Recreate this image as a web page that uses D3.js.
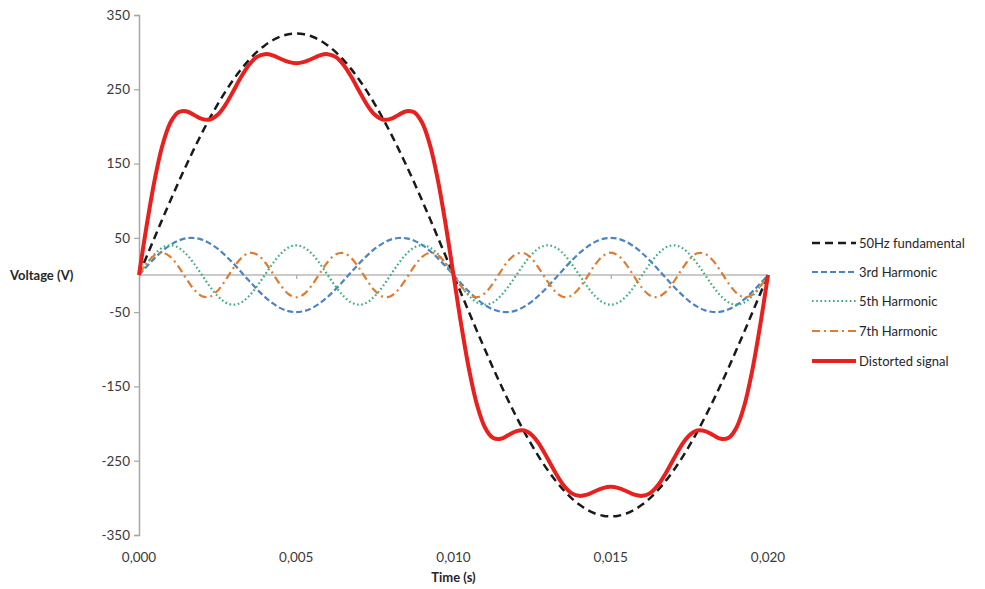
<!DOCTYPE html>
<html>
<head>
<meta charset="utf-8">
<script src="https://cdn.jsdelivr.net/npm/d3@7"></script>
<style>
html,body{margin:0;padding:0;background:#fff;}
svg text{font-family:"Lato","Open Sans",sans-serif;}
</style>
</head>
<body>
<svg id="chart" width="985" height="589"></svg>
<script>
// Time (s)
const time = [0,0.00025,0.0005,0.00075,0.001,0.00125,0.0015,0.00175,0.002,0.00225,0.0025,0.00275,0.003,0.00325,0.0035,0.00375,0.004,0.00425,0.0045,0.00475,0.005,
0.00525,0.0055,0.00575,0.006,0.00625,0.0065,0.00675,0.007,0.00725,0.0075,0.00775,0.008,0.00825,0.0085,0.00875,0.009,0.00925,0.0095,0.00975,0.01,
0.01025,0.0105,0.01075,0.011,0.01125,0.0115,0.01175,0.012,0.01225,0.0125,0.01275,0.013,0.01325,0.0135,0.01375,0.014,0.01425,0.0145,0.01475,0.015,
0.01525,0.0155,0.01575,0.016,0.01625,0.0165,0.01675,0.017,0.01725,0.0175,0.01775,0.018,0.01825,0.0185,0.01875,0.019,0.01925,0.0195,0.01975,0.02];

const fundamental = [0,25.5,50.8,75.9,100.4,124.4,147.5,169.8,191.0,211.1,229.8,247.1,262.9,277.1,289.6,300.3,309.1,316.0,321.0,324.0,325,
324.0,321.0,316.0,309.1,300.3,289.6,277.1,262.9,247.1,229.8,211.1,191.0,169.8,147.5,124.4,100.4,75.9,50.8,25.5,0,
-25.5,-50.8,-75.9,-100.4,-124.4,-147.5,-169.8,-191.0,-211.1,-229.8,-247.1,-262.9,-277.1,-289.6,-300.3,-309.1,-316.0,-321.0,-324.0,-325,
-324.0,-321.0,-316.0,-309.1,-300.3,-289.6,-277.1,-262.9,-247.1,-229.8,-211.1,-191.0,-169.8,-147.5,-124.4,-100.4,-75.9,-50.8,-25.5,0];

const harmonic3 = [0,11.7,22.7,32.5,40.5,46.2,49.4,49.8,47.6,42.6,35.4,26.1,15.5,3.9,-7.8,-19.1,-29.4,-38.0,-44.6,-48.6,-50,
-48.6,-44.6,-38.0,-29.4,-19.1,-7.8,3.9,15.5,26.1,35.4,42.6,47.6,49.8,49.4,46.2,40.5,32.5,22.7,11.7,0,
-11.7,-22.7,-32.5,-40.5,-46.2,-49.4,-49.8,-47.6,-42.6,-35.4,-26.1,-15.5,-3.9,7.8,19.1,29.4,38.0,44.6,48.6,50,
48.6,44.6,38.0,29.4,19.1,7.8,-3.9,-15.5,-26.1,-35.4,-42.6,-47.6,-49.8,-49.4,-46.2,-40.5,-32.5,-22.7,-11.7,0];

const harmonic5 = [0,15.3,28.3,37.0,40,37.0,28.3,15.3,0,-15.3,-28.3,-37.0,-40,-37.0,-28.3,-15.3,0,15.3,28.3,37.0,40,
37.0,28.3,15.3,0,-15.3,-28.3,-37.0,-40,-37.0,-28.3,-15.3,0,15.3,28.3,37.0,40,37.0,28.3,15.3,0,
-15.3,-28.3,-37.0,-40,-37.0,-28.3,-15.3,0,15.3,28.3,37.0,40,37.0,28.3,15.3,0,-15.3,-28.3,-37.0,-40,
-37.0,-28.3,-15.3,0,15.3,28.3,37.0,40,37.0,28.3,15.3,0,-15.3,-28.3,-37.0,-40,-37.0,-28.3,-15.3,0];

const harmonic7 = [0,15.7,26.7,29.9,24.3,11.5,-4.7,-19.5,-28.5,-29.2,-21.2,-7.0,9.3,22.8,29.6,27.7,17.6,2.4,-13.6,-25.6,-30,
-25.6,-13.6,2.4,17.6,27.7,29.6,22.8,9.3,-7.0,-21.2,-29.2,-28.5,-19.5,-4.7,11.5,24.3,29.9,26.7,15.7,0,
-15.7,-26.7,-29.9,-24.3,-11.5,4.7,19.5,28.5,29.2,21.2,7.0,-9.3,-22.8,-29.6,-27.7,-17.6,-2.4,13.6,25.6,30,
25.6,13.6,-2.4,-17.6,-27.7,-29.6,-22.8,-9.3,7.0,21.2,29.2,28.5,19.5,4.7,-11.5,-24.3,-29.9,-26.7,-15.7,0];

const distorted = [0,68.2,128.5,175.3,205.2,219.1,220.5,215.4,210.1,209.2,215.7,229.2,247.7,266.8,283.1,293.6,297.3,295.7,291.1,286.8,285,
286.8,291.1,295.7,297.3,293.6,283.1,266.8,247.7,229.2,215.7,209.2,210.1,215.4,220.5,219.1,205.2,175.3,128.5,68.2,0,
-68.2,-128.5,-175.3,-205.2,-219.1,-220.5,-215.4,-210.1,-209.2,-215.7,-229.2,-247.7,-266.8,-283.1,-293.6,-297.3,-295.7,-291.1,-286.8,-285,
-286.8,-291.1,-295.7,-297.3,-293.6,-283.1,-266.8,-247.7,-229.2,-215.7,-209.2,-210.1,-215.4,-220.5,-219.1,-205.2,-175.3,-128.5,-68.2,0];

const xTicks = [0,0.005,0.010,0.015,0.020];
const xTickLabels = ["0,000","0,005","0,010","0,015","0,020"];
const yTicks = [350,250,150,50,-50,-150,-250,-350];
const yTickLabels = ["350","250","150","50","-50","-150","-250","-350"];
const seriesNames = ["50Hz fundamental","3rd Harmonic","5th Harmonic","7th Harmonic","Distorted signal"];

const styles = [
  {color:"#1a1a1a", width:2.5, dash:"8,5"},
  {color:"#4a84c4", width:2.2, dash:"6,3"},
  {color:"#3aae78", width:2.2, dash:"1.6,2.6"},
  {color:"#e07b30", width:2.2, dash:"8,4,2,4"},
  {color:"#e8201e", width:4, dash:null}
];
const seriesData = [fundamental, harmonic3, harmonic5, harmonic7, distorted];

const svg = d3.select("#chart");
const x = d3.scaleLinear().domain([0,0.02]).range([139,768]);
const y = d3.scaleLinear().domain([-350,350]).range([535,15]);

// y axis
const yAxis = d3.axisLeft(y).tickValues(yTicks).tickSize(5).tickPadding(4).tickFormat((d,i)=>yTickLabels[i]);
const gy = svg.append("g").attr("transform","translate(139,0)").call(yAxis);
gy.select(".domain").attr("stroke","#a6a6a6").attr("stroke-width",1.5);
gy.selectAll(".tick line").attr("stroke","#a6a6a6").attr("stroke-width",1.2);
gy.selectAll(".tick text").attr("fill","#3a3a3a").attr("font-size",13.5).attr("font-family","Lato, 'Open Sans', sans-serif");

// x axis at y=0
const xAxis = d3.axisBottom(x).tickValues(xTicks).tickSize(4).tickFormat("");
const gx = svg.append("g").attr("transform",`translate(0,${y(0)})`).call(xAxis);
gx.select(".domain").attr("stroke","#b8b8b8").attr("stroke-width",1.5).attr("d",`M${x(0)},0H${x(0.02)}`);
gx.selectAll(".tick line").attr("stroke","#a6a6a6").attr("stroke-width",1.2);
// x tick labels at bottom
svg.append("g").selectAll("text").data(xTicks).join("text")
  .attr("x",d=>x(d)).attr("y",562).attr("text-anchor","middle")
  .attr("font-size",13.5).attr("fill","#3a3a3a")
  .text((d,i)=>xTickLabels[i]);

// axis titles
svg.append("text").attr("x",10).attr("y",280).attr("font-size",13).attr("font-weight","bold").attr("fill","#262626").text("Voltage (V)");
svg.append("text").attr("x",(x(0)+x(0.02))/2).attr("y",582).attr("text-anchor","middle").attr("font-size",13).attr("font-weight","bold").attr("fill","#262626").text("Time (s)");

// lines
const line = d3.line().x((d,i)=>x(time[i])).y(d=>y(d)).curve(d3.curveCatmullRom.alpha(0.5));
seriesData.forEach((s,i)=>{
  svg.append("path").datum(s).attr("d",line).attr("fill","none")
    .attr("stroke",styles[i].color).attr("stroke-width",styles[i].width)
    .attr("stroke-dasharray",styles[i].dash).attr("stroke-linejoin","round");
});

// legend
const legY = [243,272,301,331,361];
const leg = svg.append("g");
seriesNames.forEach((n,i)=>{
  leg.append("line").attr("x1",812).attr("x2",856).attr("y1",legY[i]).attr("y2",legY[i])
    .attr("stroke",styles[i].color).attr("stroke-width",styles[i].width).attr("stroke-dasharray",styles[i].dash);
  leg.append("text").attr("x",859).attr("y",legY[i]+4.5).attr("font-size",13).attr("fill","#262626").text(n);
});
</script>
</body>
</html>
